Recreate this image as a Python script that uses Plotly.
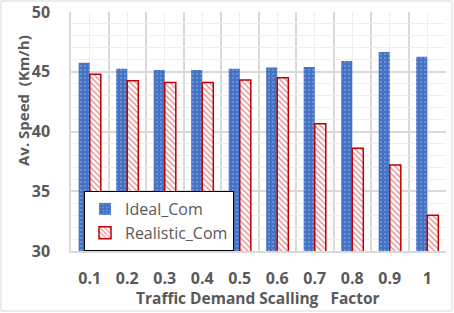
import plotly.graph_objects as go

categories = ["0.1", "0.2", "0.3", "0.4", "0.5", "0.6", "0.7", "0.8", "0.9", "1"]
ideal_com = [45.75, 45.25, 45.15, 45.15, 45.25, 45.35, 45.4, 45.9, 46.65, 46.25]
realistic_com = [44.8, 44.25, 44.1, 44.1, 44.3, 44.5, 40.65, 38.6, 37.2, 33.0]
y_ticks = [30, 35, 40, 45, 50]

FONT = "Open Sans"
GRAY = "#595959"
xpos = list(range(len(categories)))

fig = go.Figure()
fig.add_trace(go.Bar(
    x=xpos, y=ideal_com, name="Ideal_Com",
    marker=dict(color="#4472C4", line=dict(width=0),
                pattern=dict(shape=".", fgcolor="white", bgcolor="#4472C4",
                             size=4, solidity=0.12)),
))
fig.add_trace(go.Bar(
    x=xpos, y=realistic_com, name="Realistic_Com",
    marker=dict(color="white", line=dict(width=1.5, color="#C00000"),
                pattern=dict(shape="\\", fgcolor="#C00000", bgcolor="white",
                             size=4, solidity=0.3)),
))

L, R, T, B = 71, 8, 12, 62
W, H = 454, 313
pw, ph = W - L - R, H - T - B

def px2paper_x(px):
    return (px - L) / pw

def px2paper_y(py):
    return (H - B - py) / ph

fig.update_layout(
    width=W, height=H,
    margin=dict(l=L, r=R, t=T, b=B, autoexpand=False),
    paper_bgcolor="white", plot_bgcolor="white",
    barmode="group", bargap=0.41, bargroupgap=0,
    font=dict(family=FONT, color=GRAY, size=16),
    showlegend=True,
    legend=dict(x=px2paper_x(84), y=px2paper_y(191), xanchor="left", yanchor="top",
                bgcolor="white", bordercolor="black", borderwidth=1,
                font=dict(family=FONT, size=16, color=GRAY),
                tracegroupgap=0, itemwidth=30),
    xaxis=dict(
        automargin=False,
        range=[-0.5, len(categories) - 0.5],
        tickmode="array", tickvals=xpos, ticktext=["<b>%s</b>" % c for c in categories],
        showgrid=True, gridcolor="#EEEEEE", gridwidth=1,
        minor=dict(tickmode="linear", tick0=-0.5, dtick=1, showgrid=True,
                   gridcolor="#D9D9D9", gridwidth=1.5, ticks=""),
        ticks="outside", ticklen=12, tickcolor="rgba(0,0,0,0)",
        showline=True, linecolor="#D9D9D9", linewidth=1.5,
        zeroline=False,
        tickfont=dict(size=16, color=GRAY, family=FONT),
    ),
    yaxis=dict(
        automargin=False,
        range=[30, 50],
        tickmode="array", tickvals=y_ticks, ticktext=["<b>%d</b>" % v for v in y_ticks],
        showgrid=True, gridcolor="#D9D9D9", gridwidth=1.5,
        minor=dict(tickmode="linear", tick0=30, dtick=1, showgrid=True,
                   gridcolor="#EEEEEE", gridwidth=1, ticks=""),
        ticks="outside", ticklen=16, tickcolor="rgba(0,0,0,0)",
        showline=True, linecolor="#D9D9D9", linewidth=1.5,
        zeroline=False,
        tickfont=dict(size=16, color=GRAY, family=FONT),
    ),
    annotations=[
        dict(text="<b>Av. Speed  (Km/h)</b>", textangle=-90,
             xref="paper", yref="paper", x=px2paper_x(23), y=px2paper_y(101),
             xanchor="center", yanchor="middle", showarrow=False,
             font=dict(size=15, color=GRAY, family=FONT)),
        dict(text="<b>Traffic Demand Scalling\u00a0\u00a0\u00a0Factor</b>",
             xref="paper", yref="paper", x=px2paper_x(258), y=px2paper_y(298),
             xanchor="center", yanchor="middle", showarrow=False,
             font=dict(size=15.5, color=GRAY, family=FONT)),
    ],
    shapes=[dict(type="rect", xref="paper", yref="paper",
                 x0=px2paper_x(1), x1=px2paper_x(452),
                 y0=px2paper_y(311), y1=px2paper_y(1),
                 line=dict(color="#D9D9D9", width=1), layer="below")],
)

fig.write_html("out.html", config={"displayModeBar": False})

with open("out.html", "r", encoding="utf-8") as f:
    html = f.read()
html = html.replace("<head>", "<head><style>html,body{margin:0;padding:0;overflow:hidden;}</style>", 1)
with open("out.html", "w", encoding="utf-8") as f:
    f.write(html)
